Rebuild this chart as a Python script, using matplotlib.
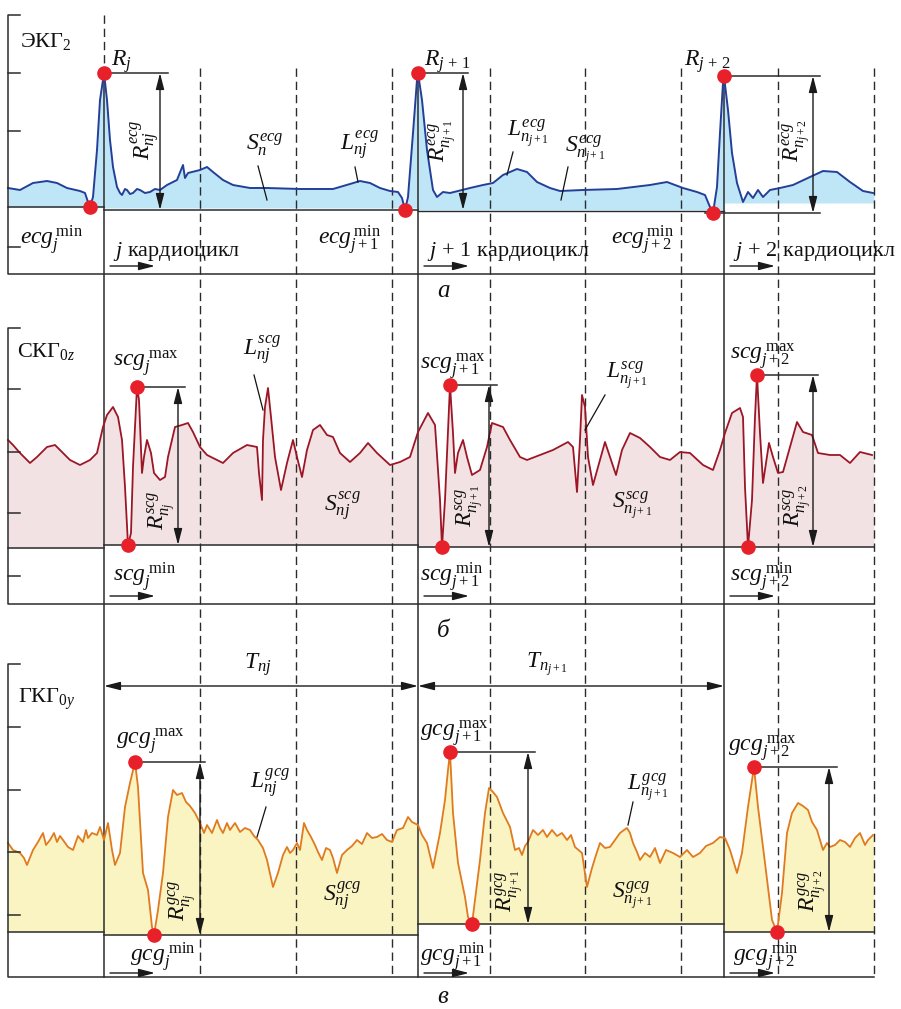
import numpy as np
import matplotlib
matplotlib.use("Agg")
import matplotlib.pyplot as plt

plt.rcParams['mathtext.fontset'] = 'custom'
plt.rcParams['mathtext.rm'] = 'Liberation Serif'
plt.rcParams['mathtext.it'] = 'Liberation Serif:italic'
plt.rcParams['mathtext.bf'] = 'Liberation Serif:bold'
plt.rcParams['font.family'] = ['Liberation Serif', 'DejaVu Serif']

# ---------------- data (time axis in samples, amplitude in screen units) -------------
ecg_t = [8, 20, 33, 47, 57, 67, 80, 85, 88, 90, 93, 97, 100, 103, 104, 107, 110, 113, 117, 120, 122, 125, 127,
         130, 133, 137, 140, 145, 150, 155, 160, 167, 177, 183, 185, 188, 200, 207, 213, 223, 233, 250, 267,
         300, 333, 350, 360, 370, 380, 390, 398, 402, 405, 408, 413, 417, 418, 422, 427, 433, 437, 443, 450,
         470, 483, 493, 503, 517, 527, 537, 550, 560, 583, 617, 650, 667, 683, 697, 705, 710, 713, 717, 720,
         723, 724, 728, 732, 737, 743, 748, 753, 758, 763, 770, 780, 793, 810, 823, 837, 850, 863, 873]
ecg_v = [188, 190, 183, 181, 183, 188, 191, 193, 202, 207, 197, 150, 100, 80, 73, 100, 140, 167, 187, 193, 195, 189, 190,
         194, 193, 189, 190, 193, 192, 189, 190, 185, 180, 165, 178, 173, 170, 167, 172, 180, 185, 188, 188,
         189, 189, 184, 181, 183, 188, 191, 192, 198, 210, 197, 133, 80, 73, 100, 150, 190, 197, 192, 193,
         188, 185, 183, 175, 169, 172, 182, 188, 191, 190, 189, 185, 182, 188, 192, 195, 207, 213, 187, 133,
         83, 76, 110, 153, 183, 202, 192, 198, 190, 197, 190, 188, 185, 177, 171, 172, 182, 191, 193]

scg_t = [8, 13, 20, 30, 37, 47, 55, 63, 70, 80, 90, 97, 100, 103, 107, 113, 118, 122, 125, 128, 131, 133, 137,
         139, 142, 144, 147, 151, 154, 160, 165, 168, 175, 182, 188, 193, 200, 207, 217, 223, 233, 247, 257,
         259, 262, 263, 265, 268, 271, 275, 281, 287, 293, 297, 302, 307, 313, 320, 327, 333, 340, 350, 360,
         368, 377, 390, 400, 410, 418, 428, 435, 440, 442, 445, 450, 453, 455, 458, 463, 467, 472, 480, 487,
         492, 503, 510, 520, 527, 540, 553, 568, 573, 577, 580, 582, 585, 588, 593, 598, 605, 610, 616, 622,
         630, 640, 650, 660, 670, 680, 690, 703, 713, 720, 725, 732, 740, 743, 745, 748, 752, 755, 757, 760,
         763, 769, 773, 778, 783, 790, 797, 803, 812, 818, 830, 840, 850, 860, 872]
scg_v = [440, 445, 453, 463, 457, 447, 445, 453, 460, 465, 460, 453, 440, 427, 415, 407, 417, 440, 487, 545, 533, 467, 387,
         400, 473, 457, 440, 453, 473, 480, 477, 457, 427, 425, 423, 432, 447, 455, 460, 463, 453, 445, 447,
         473, 500, 440, 407, 388, 417, 457, 490, 463, 440, 457, 477, 450, 430, 425, 435, 437, 453, 462, 453,
         443, 453, 465, 462, 457, 432, 413, 425, 500, 547, 500, 385, 433, 473, 453, 440, 457, 475, 470, 447,
         423, 427, 440, 457, 460, 455, 450, 442, 447, 492, 440, 395, 407, 457, 485, 467, 442, 457, 475, 450,
         433, 438, 447, 457, 460, 452, 453, 465, 470, 450, 433, 413, 408, 417, 487, 547, 500, 417, 375, 433,
         483, 443, 457, 473, 472, 447, 422, 432, 435, 453, 455, 455, 463, 452, 455]

gcg_t = [8, 13, 20, 24, 27, 33, 38, 43, 46, 50, 54, 57, 60, 63, 68, 73, 78, 83, 86, 88, 92, 97, 100, 104, 108,
         112, 115, 120, 125, 130, 135, 138, 143, 148, 152, 154, 158, 163, 168, 173, 177, 182, 186, 190, 195,
         200, 204, 207, 212, 217, 220, 223, 227, 230, 235, 240, 245, 250, 254, 258, 263, 267, 273, 278, 283,
         287, 290, 293, 297, 300, 304, 307, 311, 315, 318, 322, 326, 330, 333, 337, 342, 347, 352, 357, 362,
         367, 372, 377, 382, 387, 392, 397, 403, 408, 412, 418, 422, 427, 433, 440, 445, 448, 450, 453, 458,
         465, 468, 472, 475, 480, 485, 489, 493, 497, 503, 510, 515, 519, 522, 525, 528, 533, 538, 543, 547,
         552, 557, 562, 567, 571, 575, 582, 587, 592, 596, 600, 605, 610, 615, 620, 624, 627, 630, 633, 637,
         640, 645, 650, 655, 660, 666, 673, 680, 687, 693, 700, 706, 713, 720, 725, 730, 737, 742, 748, 752,
         754, 758, 765, 772, 777, 782, 787, 792, 798, 803, 808, 812, 817, 823, 827, 830, 835, 840, 845, 850,
         855, 860, 865, 868, 873]
gcg_v = [843, 850, 853, 858, 865, 850, 842, 833, 845, 840, 833, 842, 836, 840, 847, 850, 836, 842, 830, 838, 833, 835, 827, 840, 823,
         850, 865, 853, 807, 783, 762, 787, 873, 890, 927, 935, 910, 873, 817, 790, 795, 793, 802, 806, 813,
         823, 833, 825, 833, 820, 828, 833, 823, 830, 823, 832, 828, 830, 836, 840, 848, 860, 887, 873, 855,
         847, 853, 850, 843, 850, 823, 830, 837, 845, 852, 860, 848, 850, 858, 873, 855, 850, 846, 840, 844,
         833, 838, 837, 834, 840, 842, 830, 828, 817, 822, 825, 835, 843, 868, 833, 800, 770, 752, 813, 863,
         897, 917, 924, 900, 860, 813, 788, 792, 797, 813, 827, 850, 848, 855, 846, 842, 830, 835, 830, 837,
         830, 836, 833, 840, 835, 847, 853, 887, 868, 855, 843, 848, 847, 840, 833, 830, 828, 833, 843, 852,
         860, 853, 857, 848, 863, 850, 853, 857, 850, 857, 853, 846, 843, 837, 838, 850, 873, 853, 807, 780,
         767, 807, 863, 920, 932, 893, 833, 813, 803, 806, 810, 822, 830, 850, 843, 847, 845, 840, 842, 847,
         838, 833, 845, 840, 835]

cycle_bounds = [8, 104, 418, 724, 874]          # cycle borders (solid lines at j, j+1, j+2)
grid_t = [200, 296, 392, 490, 585, 681, 778, 874]  # dashed time grid
cycle_names = ['j', 'j+1', 'j+2']
panel_names = ['ЭКГ$_2$', 'СКГ$_{0z}$', 'ГКГ$_{0y}$']
panel_letters = ['а', 'б', 'в']

# ---------------- figure ----------------
fig = plt.figure(figsize=(9.01, 10.09), dpi=100)
ax = fig.add_axes([0, 0, 1, 1])
ax.set_xlim(0, 901)
ax.set_ylim(1009, 0)
ax.axis('off')

LC = '#2b2b2b'
DOT = '#e8202a'
FS = 17

ecg_t, ecg_v = np.array(ecg_t, float), np.array(ecg_v, float)
scg_t, scg_v = np.array(scg_t, float), np.array(scg_v, float)
gcg_t, gcg_v = np.array(gcg_t, float), np.array(gcg_v, float)


def extreme(t, v, lo, hi, kind):
    m = (t >= lo) & (t <= hi)
    idx = np.where(m)[0]
    k = idx[np.argmin(v[m])] if kind == 'top' else idx[np.argmax(v[m])]
    return t[k], v[k]


def seg_fill(t, v, a, b, base, color):
    m = (t > a) & (t < b)
    tt = np.concatenate([[a], t[m], [b]])
    vv = np.concatenate([[np.interp(a, t, v)], v[m], [np.interp(b, t, v)]])
    ax.fill_between(tt, vv, base, color=color, lw=0, zorder=1)


def darrow(x, y0, y1):
    ax.annotate('', xy=(x, y1), xytext=(x, y0),
                arrowprops=dict(arrowstyle='<|-|>,head_length=0.7,head_width=0.18', lw=1.0,
                                color='#1a1a1a', shrinkA=0, shrinkB=0, mutation_scale=14), zorder=6)


def harrow(x0, x1, y, both=False):
    st = '<|-|>' if both else '-|>'
    ax.annotate('', xy=(x1, y), xytext=(x0, y),
                arrowprops=dict(arrowstyle=st + ',head_length=0.7,head_width=0.18', lw=1.0,
                                color='#1a1a1a', shrinkA=0, shrinkB=0, mutation_scale=14), zorder=6)


# ---- panel frames ----
frames = [(15, 274, [73, 131, 247]), (328, 604, [389, 452, 513, 576]), (664, 977, [727, 790, 852, 915])]
for (top, bot, ticks) in frames:
    ax.plot([20, 8, 8, 874], [top, top, bot, bot], color=LC, lw=1.1, zorder=5)
    for ty in ticks:
        ax.plot([8, 20], [ty, ty], color=LC, lw=1.1, zorder=5)

# ---- vertical grid ----
for x in grid_t:
    ax.plot([x, x], [68, 977], color=LC, lw=1.0, ls=(0, (6, 3.5)), zorder=3)
ax.plot([104, 104], [15, 73], color=LC, lw=1.0, ls=(0, (6, 3.5)), zorder=3)
for x, y0 in zip(cycle_bounds[1:4], [73, 73, 76]):
    ax.plot([x, x], [y0, 977], color=LC, lw=1.1, zorder=3)

# ---- ECG ----
ecg_base = [207, 208, 210, 203]
for k in range(4):
    seg_fill(ecg_t, ecg_v, cycle_bounds[k], cycle_bounds[k + 1], ecg_base[k], '#bfe6f6')
ax.plot(ecg_t, ecg_v, color='#233f98', lw=1.4, zorder=4)
ecg_win = [(80, 130), (395, 440), (700, 750)]
ecg_R = [extreme(ecg_t, ecg_v, a, b, 'top') for a, b in ecg_win]
ecg_m = [extreme(ecg_t, ecg_v, a, b, 'bot') for a, b in ecg_win]
ax.plot([8, 104], [ecg_m[0][1]] * 2, color=LC, lw=1.1, zorder=5)
ax.plot([104, 418], [ecg_m[1][1]] * 2, color=LC, lw=1.1, zorder=5)
ax.plot([418, 724], [ecg_m[1][1] + 1] * 2, color=LC, lw=1.0, zorder=5)
ax.plot([ecg_m[2][0] - 8, 820], [ecg_m[2][1]] * 2, color=LC, lw=1.1, zorder=5)
ecg_arrx = [(168, 160), (468, 463), (820, 813)]
ecg_arr_bot = [ecg_m[1][1], ecg_m[1][1], ecg_m[2][1]]
for (tx, ty), (xe, xa), yb in zip(ecg_R, ecg_arrx, ecg_arr_bot):
    ax.plot([tx, xe], [ty, ty], color=LC, lw=1.1, zorder=5)
    darrow(xa, ty, yb)
for p in ecg_R + ecg_m:
    ax.plot(*p, 'o', color=DOT, ms=9.5, zorder=7)

# ---- SCG ----
scg_win = [(110, 150), (425, 460), (735, 770)]
scg_max = [extreme(scg_t, scg_v, a, b, 'top') for a, b in scg_win]
scg_min = [extreme(scg_t, scg_v, a, b, 'bot') for a, b in scg_win]
scg_base = [548] + [m[1] for m in scg_min]
for k in range(4):
    seg_fill(scg_t, scg_v, cycle_bounds[k], cycle_bounds[k + 1], scg_base[k], '#f3e2e4')
    ax.plot([cycle_bounds[k], cycle_bounds[k + 1]], [scg_base[k]] * 2, color=LC, lw=1.1, zorder=5)
ax.plot(scg_t, scg_v, color='#9c1626', lw=1.3, zorder=4)
scg_arrx = [(185, 178), (497, 489), (818, 813)]
for (tx, ty), (xe, xa), (mx, my) in zip(scg_max, scg_arrx, scg_min):
    ax.plot([tx, xe], [ty, ty], color=LC, lw=1.1, zorder=5)
    darrow(xa, ty, my)
for p in scg_max + scg_min:
    ax.plot(*p, 'o', color=DOT, ms=9.5, zorder=7)

# ---- GCG ----
gcg_win = [(120, 170), (440, 480), (745, 790)]
gcg_max = [extreme(gcg_t, gcg_v, a, b, 'top') for a, b in gcg_win]
gcg_min = [extreme(gcg_t, gcg_v, a, b, 'bot') for a, b in gcg_win]
gcg_base = [932] + [m[1] for m in gcg_min]
for k in range(4):
    seg_fill(gcg_t, gcg_v, cycle_bounds[k], cycle_bounds[k + 1], gcg_base[k], '#faf4c2')
    ax.plot([cycle_bounds[k], cycle_bounds[k + 1]], [gcg_base[k]] * 2, color=LC, lw=1.1, zorder=5)
ax.plot(gcg_t, gcg_v, color='#e07a1e', lw=1.3, zorder=4)
gcg_arrx = [(205, 200), (535, 528), (837, 829)]
for (tx, ty), (xe, xa), (mx, my) in zip(gcg_max, gcg_arrx, gcg_min):
    ax.plot([tx, xe], [ty, ty], color=LC, lw=1.1, zorder=5)
    darrow(xa, ty, my)
for p in gcg_max + gcg_min:
    ax.plot(*p, 'o', color=DOT, ms=9.5, zorder=7)

# period arrows
harrow(104, 418, 686, both=True)
harrow(418, 724, 686, both=True)


def T(x, y, s, size=FS, ha='left', va='baseline', rot=0, style='normal'):
    ax.text(x, y, s, fontsize=size, ha=ha, va=va, rotation=rot, style=style,
            family='Liberation Serif', color='#111', zorder=8)


# panel names
T(20, 47, panel_names[0], size=16)
T(17, 357, panel_names[1], size=16)
T(18, 703, panel_names[2], size=16)
for y, s in zip([291, 631, 997], panel_letters):
    T(443, y, s, size=18, ha='center', va='center', style='italic')

# ECG labels
T(111, 66, '$R_j$')
T(424, 66, '$R_{j\\,+\\,1}$')
T(684, 66, '$R_{j\\,+\\,2}$')
T(145, 140, '$R_{nj}^{ecg}$', rot=90, ha='center', va='center')
T(443, 140, '$R_{n_{j+1}}^{ecg}$', rot=90, ha='center', va='center')
T(797, 140, '$R_{n_{j+2}}^{ecg}$', rot=90, ha='center', va='center')
T(265, 145, '$S_n^{ecg}$', ha='center', va='center')
T(360, 145, '$L_{nj}^{ecg}$', ha='center', va='center')
T(528, 134, '$L_{n_{j+1}}^{ecg}$', ha='center', va='center')
T(585, 150, '$S_{n_{j+1}}^{ecg}$', ha='center', va='center')
for (x0, y0, x1, y1) in [(258, 166, 267, 200), (355, 167, 358, 182), (513, 152, 507, 175), (568, 167, 561, 200)]:
    ax.plot([x0, x1], [y0, y1], color='#111', lw=0.9, zorder=8)
T(20, 245, '$ecg_j^{\\,\\mathrm{min}}$')
T(318, 245, '$ecg_{j+1}^{\\,\\mathrm{min}}$')
T(611, 245, '$ecg_{j+2}^{\\,\\mathrm{min}}$')
for x, c in zip(cycle_bounds[1:4], cycle_names):
    lab = c.replace('+', '\\,+\\,')
    T(x + 9, 256, '$' + lab + '$ кардиоцикл', size=16)
    harrow(x + 6, x + 51, 266)

# SCG labels
T(113, 367, '$scg_j^{\\;\\mathrm{max}}$')
T(420, 370, '$scg_{j+1}^{\\;\\mathrm{max}}$')
T(730, 360, '$scg_{j+2}^{\\;\\mathrm{max}}$')
T(113, 582, '$scg_j^{\\;\\mathrm{min}}$')
T(420, 582, '$scg_{j+1}^{\\;\\mathrm{min}}$')
T(730, 582, '$scg_{j+2}^{\\;\\mathrm{min}}$')
T(162, 510, '$R_{n_j}^{scg}$', rot=90, ha='center', va='center')
T(470, 505, '$R_{n_{j+1}}^{scg}$', rot=90, ha='center', va='center')
T(798, 505, '$R_{n_{j+2}}^{scg}$', rot=90, ha='center', va='center')
T(262, 350, '$L_{nj}^{scg}$', ha='center', va='center')
T(627, 376, '$L_{n_{j+1}}^{scg}$', ha='center', va='center')
T(342, 506, '$S_{nj}^{scg}$', ha='center', va='center')
T(632, 506, '$S_{n_{j+1}}^{scg}$', ha='center', va='center')
for (x0, y0, x1, y1) in [(254, 375, 263, 410), (605, 395, 585, 430)]:
    ax.plot([x0, x1], [y0, y1], color='#111', lw=0.9, zorder=8)
for x in cycle_bounds[1:4]:
    harrow(x + 6, x + 51, 596)

# GCG labels
T(258, 665, '$T_{nj}$', ha='center', va='center')
T(547, 665, '$T_{n_{j+1}}$', ha='center', va='center')
T(116, 745, '$gcg_j^{\\;\\mathrm{max}}$')
T(420, 737, '$gcg_{j+1}^{\\;\\mathrm{max}}$')
T(728, 752, '$gcg_{j+2}^{\\;\\mathrm{max}}$')
T(130, 962, '$gcg_j^{\\;\\mathrm{min}}$')
T(420, 962, '$gcg_{j+1}^{\\;\\mathrm{min}}$')
T(733, 962, '$gcg_{j+2}^{\\;\\mathrm{min}}$')
T(183, 900, '$R_{n_j}^{gcg}$', rot=90, ha='center', va='center')
T(510, 890, '$R_{n_{j+1}}^{gcg}$', rot=90, ha='center', va='center')
T(813, 890, '$R_{n_{j+2}}^{gcg}$', rot=90, ha='center', va='center')
T(270, 783, '$L_{nj}^{gcg}$', ha='center', va='center')
T(648, 788, '$L_{n_{j+1}}^{gcg}$', ha='center', va='center')
T(342, 896, '$S_{nj}^{gcg}$', ha='center', va='center')
T(632, 896, '$S_{n_{j+1}}^{gcg}$', ha='center', va='center')
for (x0, y0, x1, y1) in [(266, 807, 257, 837), (633, 802, 628, 825)]:
    ax.plot([x0, x1], [y0, y1], color='#111', lw=0.9, zorder=8)
for x in cycle_bounds[1:4]:
    harrow(x + 6, x + 51, 973)

fig.savefig('out.png', dpi=100)
